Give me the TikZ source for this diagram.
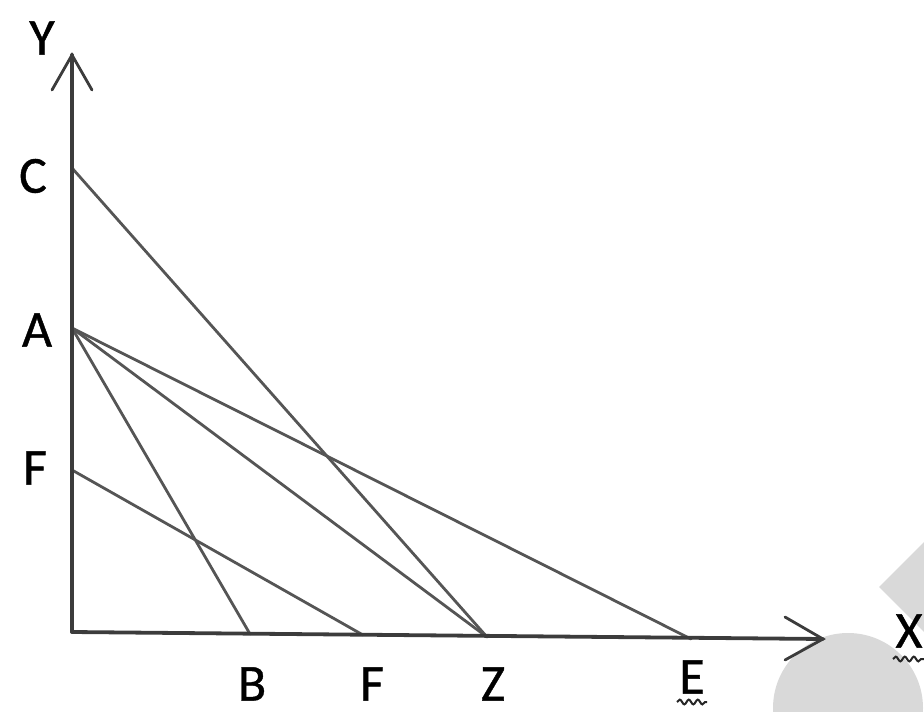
\documentclass[tikz,border=0pt]{standalone}
\usepackage{fontspec}
\setmainfont[FakeBold=0.8]{Carlito}
\usetikzlibrary{decorations.pathmorphing}
\definecolor{blob}{HTML}{D9D9D9}
\definecolor{axiscol}{HTML}{3C3C3C}
\definecolor{linecol}{HTML}{555555}
\tikzset{
  axisline/.style={draw=axiscol, line width=3.8pt, line cap=round},
  arrowarm/.style={draw=axiscol, line width=2.8pt, line cap=round},
  segline/.style={draw=linecol, line width=2.8pt, line cap=round},
  lbl/.style={font=\fontsize{52}{56}\selectfont, text=black, inner sep=0pt},
  squig/.style={draw=black!85, line width=2pt, decorate, decoration={snake, amplitude=2.4pt, segment length=9pt}},
}
\begin{document}
\begin{tikzpicture}[x=1pt,y=-1pt]
\useasboundingbox (0,0) rectangle (924,712);
\begin{scope}
\clip (0,0) rectangle (924,712);
\fill[blob] (848,708) circle (75);
\fill[blob] (879,587) -- (924,542) -- (924,632) -- cycle;
\end{scope}
% points
\coordinate (O) at (72,632);
\coordinate (Ytip) at (72,55);
\coordinate (Xtip) at (823,639);
\coordinate (C) at (72,168);
\coordinate (A) at (72,328);
\coordinate (F1) at (72,470);
\coordinate (B) at (250,634);
\coordinate (F2) at (363,635);
\coordinate (Z) at (487,637);
\coordinate (E) at (691,639);
\coordinate (Ya) at (52,90);
\coordinate (Yb) at (92,90);
\coordinate (Xa) at (785,617);
\coordinate (Xb) at (785,660);
% lines
\path[segline] (C) -- (Z);
\path[segline] (A) -- (B);
\path[segline] (A) -- (Z);
\path[segline] (A) -- (E);
\path[segline] (F1) -- (F2);
% axes
\path[axisline] (O) -- (Ytip);
\path[axisline] (O) -- (Xtip);
\path[arrowarm] (Ya) -- (Ytip) -- (Yb);
\path[arrowarm] (Xa) -- (Xtip) -- (Xb);
% labels
\node[lbl] (lY) at (42,38) {Y};
\node[lbl] (lC) at (33,176) {C};
\node[lbl] (lA) at (37,330) {A};
\node[lbl] (lF1) at (35,468) {F};
\node[lbl] (lB) at (252,684) {B};
\node[lbl] (lF2) at (372,684) {F};
\node[lbl] (lZ) at (493,684) {Z};
\node[lbl] (lE) at (692,677) {E};
\node[lbl] (lX) at (909,631) {X};
\coordinate (sqE1) at (677,702);
\coordinate (sqE2) at (707,702);
\coordinate (sqX1) at (893,659);
\coordinate (sqX2) at (924,659);
\path[squig] (sqE1) -- (sqE2);
\path[squig] (sqX1) -- (sqX2);
\end{tikzpicture}
\end{document}
